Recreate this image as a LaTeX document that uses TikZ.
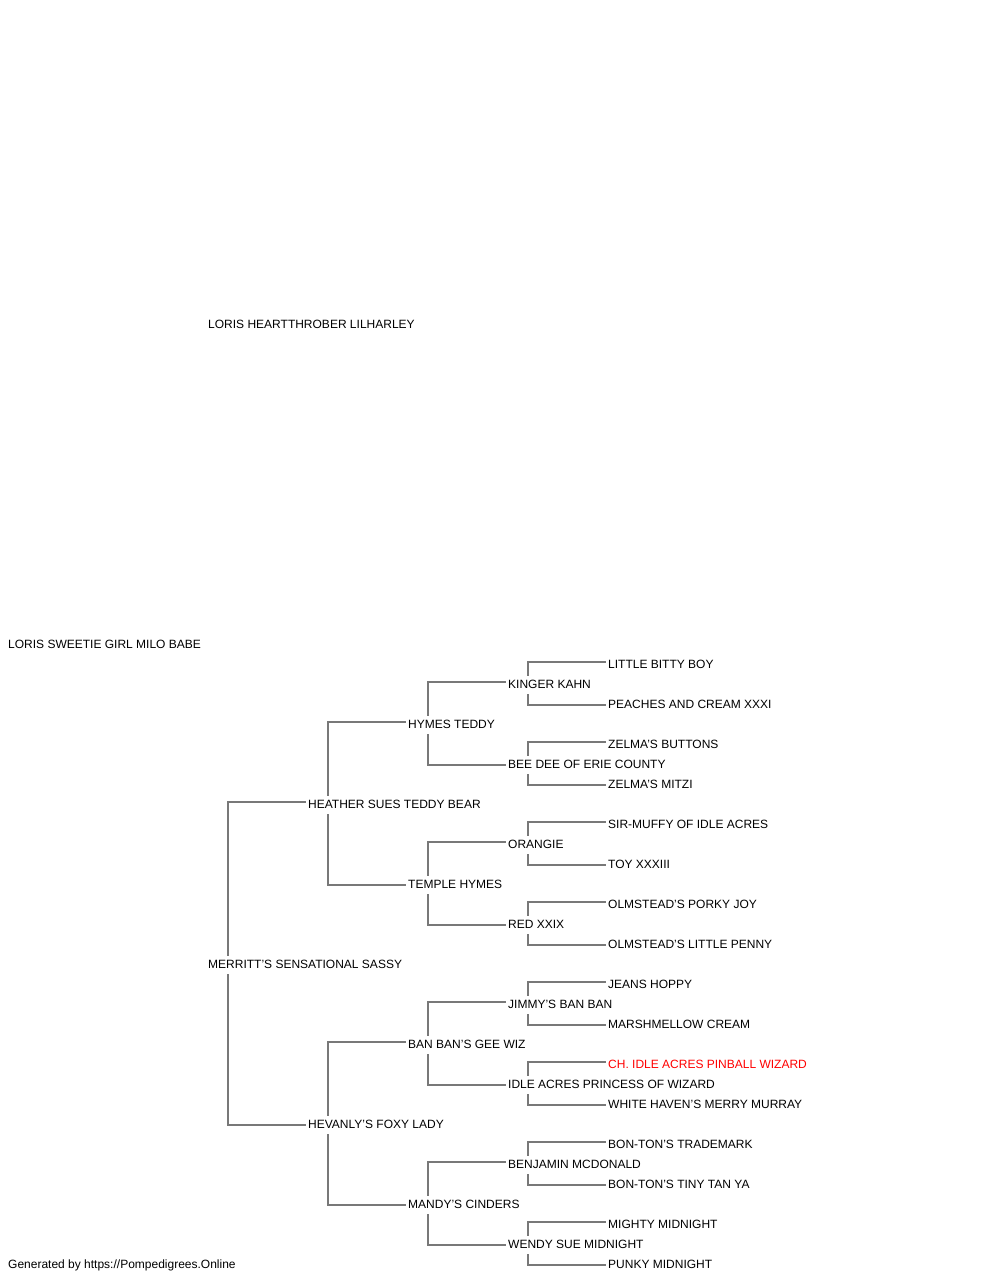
\documentclass[tikz,border=0pt]{standalone}
\usepackage{fontspec}
\setmainfont{Liberation Sans}[Ligatures=ResetAll]
\usetikzlibrary{positioning}
\definecolor{linegray}{RGB}{120,120,120}
\tikzset{
    dog/.style={anchor=west, inner xsep=2pt, inner ysep=0pt, text height=12.3pt, text depth=5.7pt,
                font=\fontsize{12}{14}\selectfont},
    pedline/.style={draw=linegray, line width=1.8pt},
}

\begin{document}
\begin{tikzpicture}[x=1pt, y=-1pt]
            \useasboundingbox (0,0) rectangle (1000,1280);

            % sire and grand parents
            \node[dog] (lh) at (206,325) {LORIS HEARTTHROBER LILHARLEY};
            \node[dog] (lb) at (6,645) {LORIS SWEETIE GIRL MILO BABE};
            \node[dog] (ms) at (206,965) {MERRITT'S SENSATIONAL SASSY};

            \node[dog] (hs) at (306,805) {HEATHER SUES TEDDY BEAR};
            \node[dog] (hv) at (306,1125) {HEVANLY'S FOXY LADY};

            \node[dog] (ht) at (406,725) {HYMES TEDDY};
            \node[dog] (th) at (406,885) {TEMPLE HYMES};
            \node[dog] (bb) at (406,1045) {BAN BAN'S GEE WIZ};
            \node[dog] (mc) at (406,1205) {MANDY'S CINDERS};

            \node[dog] (kk) at (506,685) {KINGER KAHN};
            \node[dog] (bd) at (506,765) {BEE DEE OF ERIE COUNTY};
            \node[dog] (or) at (506,845) {ORANGIE};
            \node[dog] (rx) at (506,925) {RED XXIX};
            \node[dog] (jb) at (506,1005) {JIMMY'S BAN BAN};
            \node[dog] (ia) at (506,1085) {IDLE ACRES PRINCESS OF WIZARD};
            \node[dog] (bm) at (506,1165) {BENJAMIN MCDONALD};
            \node[dog] (ws) at (506,1245) {WENDY SUE MIDNIGHT};

            \node[dog] (lbb) at (606,665) {LITTLE BITTY BOY};
            \node[dog] (pc) at (606,705) {PEACHES AND CREAM XXXI};
            \node[dog] (zb) at (606,745) {ZELMA'S BUTTONS};
            \node[dog] (zm) at (606,785) {ZELMA'S MITZI};
            \node[dog] (sm) at (606,825) {SIR-MUFFY OF IDLE ACRES};
            \node[dog] (tx) at (606,865) {TOY XXXIII};
            \node[dog] (op) at (606,905) {OLMSTEAD'S PORKY JOY};
            \node[dog] (ol) at (606,945) {OLMSTEAD'S LITTLE PENNY};
            \node[dog] (jh) at (606,985) {JEANS HOPPY};
            \node[dog] (mw) at (606,1025) {MARSHMELLOW CREAM};
            \node[dog, text=red] (pw) at (606,1065) {CH. IDLE ACRES PINBALL WIZARD};
            \node[dog] (wh) at (606,1105) {WHITE HAVEN'S MERRY MURRAY};
            \node[dog] (bt) at (606,1145) {BON-TON'S TRADEMARK};
            \node[dog] (by) at (606,1185) {BON-TON'S TINY TAN YA};
            \node[dog] (mm) at (606,1225) {MIGHTY MIDNIGHT};
            \node[dog] (pm) at (606,1265) {PUNKY MIDNIGHT};

            \node[dog] (gen) at (6,1265) {Generated by https://Pompedigrees.Online};

            % dam side lines
            \draw[pedline] ([xshift=22pt]ms.north west) |- ([yshift=3pt]hs.west);
            \draw[pedline] ([xshift=22pt]ms.south west) |- (hv.west);

            \draw[pedline] ([xshift=22pt]hs.north west) |- ([yshift=3pt]ht.west);
            \draw[pedline] ([xshift=22pt]hs.south west) |- (th.west);
            \draw[pedline] ([xshift=22pt]hv.north west) |- ([yshift=3pt]bb.west);
            \draw[pedline] ([xshift=22pt]hv.south west) |- (mc.west);

            \draw[pedline] ([xshift=22pt]ht.north west) |- ([yshift=3pt]kk.west);
            \draw[pedline] ([xshift=22pt]ht.south west) |- (bd.west);
            \draw[pedline] ([xshift=22pt]th.north west) |- ([yshift=3pt]or.west);
            \draw[pedline] ([xshift=22pt]th.south west) |- (rx.west);
            \draw[pedline] ([xshift=22pt]bb.north west) |- ([yshift=3pt]jb.west);
            \draw[pedline] ([xshift=22pt]bb.south west) |- (ia.west);
            \draw[pedline] ([xshift=22pt]mc.north west) |- ([yshift=3pt]bm.west);
            \draw[pedline] ([xshift=22pt]mc.south west) |- (ws.west);

            \draw[pedline] ([xshift=22pt]kk.north west) |- ([yshift=3pt]lbb.west);
            \draw[pedline] ([xshift=22pt]kk.south west) |- (pc.west);
            \draw[pedline] ([xshift=22pt]bd.north west) |- ([yshift=3pt]zb.west);
            \draw[pedline] ([xshift=22pt]bd.south west) |- (zm.west);
            \draw[pedline] ([xshift=22pt]or.north west) |- ([yshift=3pt]sm.west);
            \draw[pedline] ([xshift=22pt]or.south west) |- (tx.west);
            \draw[pedline] ([xshift=22pt]rx.north west) |- ([yshift=3pt]op.west);
            \draw[pedline] ([xshift=22pt]rx.south west) |- (ol.west);
            \draw[pedline] ([xshift=22pt]jb.north west) |- ([yshift=3pt]jh.west);
            \draw[pedline] ([xshift=22pt]jb.south west) |- (mw.west);
            \draw[pedline] ([xshift=22pt]ia.north west) |- ([yshift=3pt]pw.west);
            \draw[pedline] ([xshift=22pt]ia.south west) |- (wh.west);
            \draw[pedline] ([xshift=22pt]bm.north west) |- ([yshift=3pt]bt.west);
            \draw[pedline] ([xshift=22pt]bm.south west) |- (by.west);
            \draw[pedline] ([xshift=22pt]ws.north west) |- ([yshift=3pt]mm.west);
            \draw[pedline] ([xshift=22pt]ws.south west) |- (pm.west);
\end{tikzpicture}
\end{document}
